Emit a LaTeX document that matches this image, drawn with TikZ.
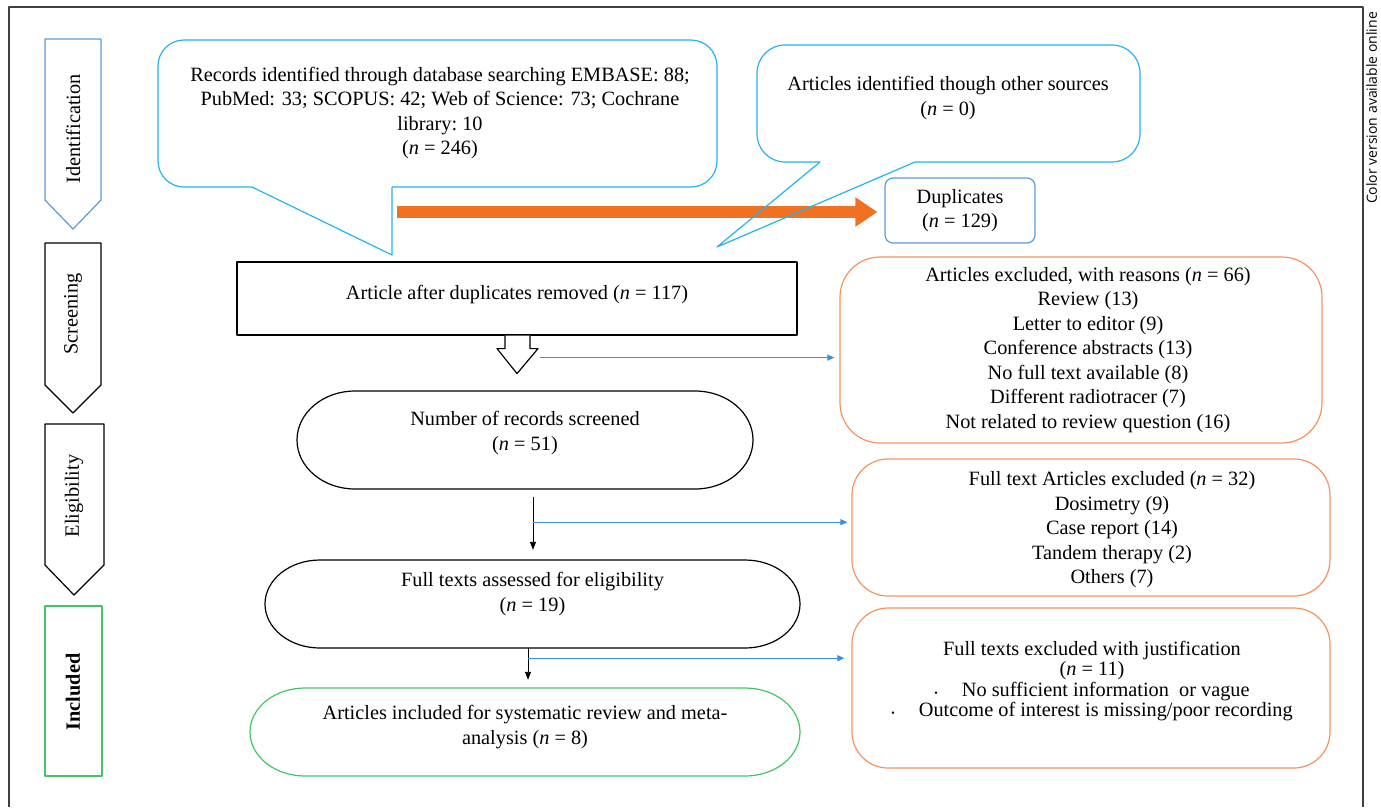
\documentclass[tikz,border=0pt]{standalone}
\usepackage{fontspec}
\setmainfont{Liberation Serif}
\newfontfamily\sansf{Open Sans}
\usetikzlibrary{arrows.meta,calc}
\definecolor{cblue}{HTML}{22B4EE}
\definecolor{sblue}{HTML}{5B9BD5}
\definecolor{boxor}{HTML}{F4935A}
\definecolor{arror}{HTML}{F07122}
\definecolor{cgreen}{HTML}{44C468}
\definecolor{abl}{HTML}{3F8EDB}
\definecolor{frame}{HTML}{404040}
\newcommand{\bdot}{{\fontsize{10}{10}\selectfont\textbullet}}
\begin{document}
\begin{tikzpicture}[x=1pt,y=-1pt,line join=round,
  txt/.style={align=center,inner sep=0pt,font=\fontsize{20.3}{24.5}\selectfont},
  stagetxt/.style={inner sep=0pt,rotate=90,font=\fontsize{20.3}{22}\selectfont},
  shp/.style={line width=1.2pt},
  holder/.style={inner sep=0pt,draw=none},
  blarr/.style={line width=0.9pt,-{Triangle[length=8pt,width=6pt]}},
  buarr/.style={abl,line width=1.1pt,-{Triangle[length=7pt,width=6pt]}}]
\useasboundingbox (0,0) rectangle (1381,807);
% frame
\draw[frame,line width=2pt] (9,807) -- (9,7) -- (1363,7) -- (1363,807);
\node[rotate=90,inner sep=0pt,font=\sansf\fontsize{14}{15}\selectfont] (cv) at (1371.5,108) {Color version available online};
% stages
\draw[sblue,shp] (45,39) -- (101,39) -- (101,200) -- (73,229) -- (45,200) -- cycle;
\node[stagetxt] (sid) at (73,129) {Identification};
\draw[black,shp] (45,243) -- (101,243) -- (101,385) -- (73,413) -- (45,385) -- cycle;
\node[stagetxt] (ssc) at (73,314) {Screening};
\draw[black,shp] (45,424) -- (104,424) -- (104,565) -- (74,595) -- (45,565) -- cycle;
\node[stagetxt] (sel) at (74,496) {Eligibility};
\draw[cgreen,shp] (45,606) rectangle (102,776);
\node[stagetxt,font=\bfseries\fontsize{20.3}{22}\selectfont] (sin) at (73,692) {Included};
% orange arrow to duplicates
\node[draw=sblue,shp,rounded corners=8pt,minimum width=150pt,minimum height=65pt,txt] (dup) at (960,210.5) {Duplicates\\(\textit{n} = 129)};
\coordinate (oa) at (397,212);
\draw[arror,line width=12pt,-{Triangle[length=22pt,width=28pt]},shorten >=7pt] (oa) -- (oa -| dup.west);
% callout 1
\node[txt] (rec) at (440,113) {Records identified through database searching EMBASE:\ 88;\\PubMed: 33; SCOPUS: 42; Web of Science: 73; Cochrane\\library:\ 10\\(\textit{n} = 246)};
\draw[cblue,shp,rounded corners=26pt] (252,187) -- (158,187) -- (158,40) -- (717,40) -- (717,187) -- (392,187);
\draw[cblue,shp] (252,187) -- (392,255) -- (392,187);
% callout 2
\node[txt] (oth) at (948,98) {Articles identified though other sources\\(\textit{n} = 0)};
\draw[cblue,shp,rounded corners=28pt] (820,162) -- (757,162) -- (757,45) -- (1140,45) -- (1140,162) -- (915,162);
\draw[cblue,shp] (820,162) -- (717,247) -- (915,162);
% article after duplicates
\node[draw,shp,minimum width=560pt,minimum height=73pt,txt,text depth=12pt] (adr) at (517,298.5) {Article after duplicates removed (\textit{n} = 117)};
\draw[shp,fill=white] ($(adr.south)+(-12,0)$) -- ++(0,13) -- ++(-8,0) -- ($(adr.south)+(0,38)$) -- ++(21,-25) -- ++(-8,0) -- ($(adr.south)+(13,0)$);
% excluded 1
\node[draw=boxor,shp,rounded corners=40pt,minimum width=482pt,minimum height=186pt,txt] (ex1) at (1081,350) {};
\node[txt] (ex1t) at (1088,350) {Articles excluded, with reasons (\textit{n} = 66)\\Review (13)\\Letter to editor (9)\\Conference abstracts (13)\\No full text available\ (8)\\Different radiotracer (7)\\Not related to review question (16)};
\coordinate (s1) at ($(adr.south)+(23,22)$);
\draw[buarr,shorten >=5pt] (s1) -- (s1 -| ex1.west);
% number of records screened
\node[holder,minimum width=456pt,minimum height=98pt] (scr) at (525,440) {};
\draw[shp] (355,391) -- (695,391) arc[start angle=90,end angle=-90,x radius=58pt,y radius=49pt] -- (355,489) arc[start angle=270,end angle=90,x radius=58pt,y radius=49pt] -- cycle;
\node[txt] (scrt) at ($(scr)+(0,-7)$) {Number of records screened\\(\textit{n} = 51)};
% full texts assessed
\node[holder,minimum width=535pt,minimum height=88pt] (fta) at (532.5,604) {};
\draw[shp] (320,560) -- (745,560) arc[start angle=90,end angle=-90,x radius=55pt,y radius=44pt] -- (320,648) arc[start angle=270,end angle=90,x radius=55pt,y radius=44pt] -- cycle;
\node[txt] (ftat) at ($(fta)+(0,-10)$) {Full texts assessed for eligibility\\(\textit{n} = 19)};
% excluded 2
\node[draw=boxor,shp,rounded corners=36pt,minimum width=478pt,minimum height=137pt] (ex2) at (1091,527.5) {};
\node[txt] (ex2t) at (1112,530) {Full text Articles excluded (\textit{n} = 32)\\Dosimetry (9)\\Case report (14)\\Tandem therapy (2)\\Others (7)};
\coordinate (b1) at ($(scr.south)+(8,8)$);
\draw[blarr,shorten >=10pt] (b1) -- (b1 |- fta.north);
\coordinate (j1) at ($(b1)+(0,25)$);
\draw[buarr,shorten >=4pt] (j1) -- (j1 -| ex2.west);
% included
\node[holder,minimum width=550pt,minimum height=88pt] (inc) at (525,732) {};
\draw[cgreen,shp] (305,688) -- (745,688) arc[start angle=90,end angle=-90,x radius=55pt,y radius=44pt] -- (305,776) arc[start angle=270,end angle=90,x radius=55pt,y radius=44pt] -- cycle;
\node[txt] (inct) at ($(inc)+(0,-5)$) {Articles included for systematic review and meta-\\analysis (\textit{n} = 8)};
% excluded 3
\node[draw=boxor,shp,rounded corners=36pt,minimum width=478pt,minimum height=160pt] (ex3) at (1091,688) {};
\node[txt,font=\fontsize{20.3}{20.5}\selectfont] (ex3t) at (1092,681) {Full texts excluded with justification\\(\textit{n} = 11)\\\bdot\hspace{24pt}No sufficient information\ \ or vague\\\bdot\hspace{24pt}Outcome of interest is missing/poor recording};
\coordinate (b2) at ($(fta.south)+(-4.5,0)$);
\draw[blarr,shorten >=8pt] (b2) -- (b2 |- inc.north);
\coordinate (j2) at ($(b2)+(0,10)$);
\draw[buarr,shorten >=7pt] (j2) -- (j2 -| ex3.west);
\end{tikzpicture}
\end{document}
